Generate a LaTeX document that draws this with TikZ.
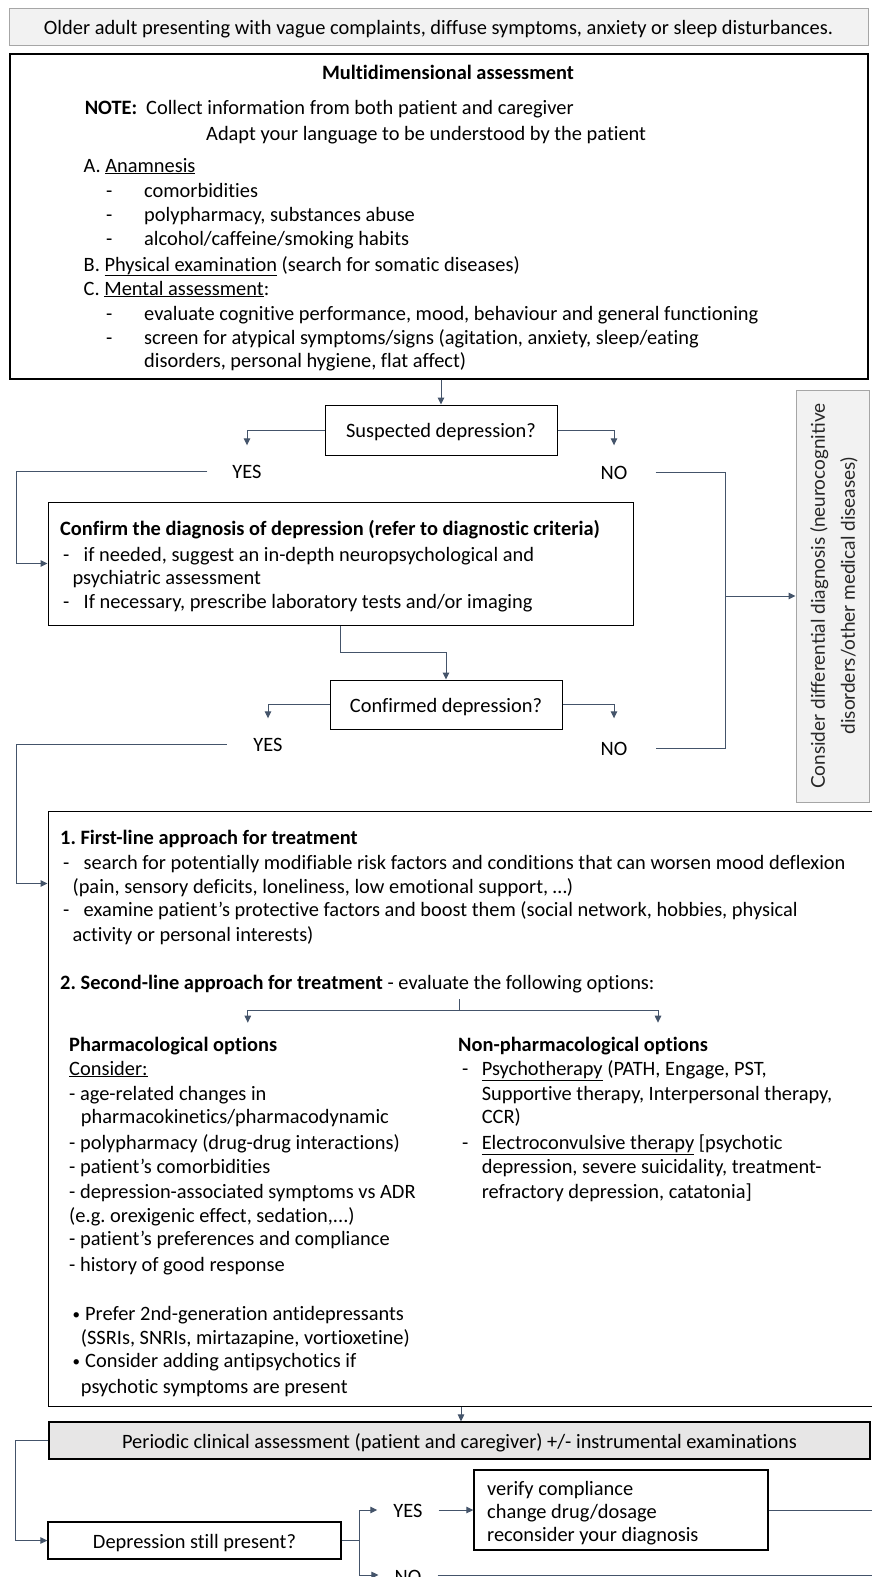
\documentclass[tikz,border=0pt]{standalone}
\usepackage{fontspec}
\setmainfont{Carlito}[Ligatures={NoCommon}]
\newfontfamily\sidefont{Lato}
\usetikzlibrary{arrows.meta,calc}
\definecolor{conn}{HTML}{44546A}
\definecolor{lgray}{HTML}{F2F2F2}
\definecolor{mgray}{HTML}{E7E6E6}
\definecolor{bgray}{HTML}{A6A6A6}
\definecolor{tx}{HTML}{000000}
\newcommand\TL[4]{\node[txt] (#1) at (#2,#3) {#4};}
\newcommand\smbul{\raisebox{1pt}{\fontsize{15}{15}\selectfont •}}
\frenchspacing
\begin{document}
\begin{tikzpicture}[x=1pt,y=-1pt,
  every node/.style={font=\fontsize{20.4}{24}\selectfont, text=tx},
  txt/.style={anchor=base west, inner sep=0pt, yshift=-2pt},
  box/.style={draw=black, line width=1.3pt, inner sep=0pt},
  ctext/.style={text height=15pt, text depth=0pt},
  graybox/.style={draw=bgray, fill=lgray, line width=1pt, inner sep=0pt},
  conn/.style={draw=conn, line width=1pt},
  arr/.style={conn, -{Triangle[length=7pt,width=6.5pt]}},
  lab/.style={inner sep=0pt, text height=15pt, text depth=0pt}]
\useasboundingbox (0,0) rectangle (872,1577);
\fill[white] (0,0) rectangle (872,1577);

% boxes
\node[graybox, ctext, minimum width=859pt, minimum height=37pt] (top) at (438.5,26.5)
  {Older adult presenting with vague complaints, diffuse symptoms, anxiety or sleep disturbances.};
\node[box, minimum width=858pt, minimum height=325pt] (mainbox) at (439,216.5) {};
\node[box, ctext, line width=1pt, minimum width=232pt, minimum height=50pt] (susp) at (441,430) {Suspected depression?};
\node[box, line width=1pt, minimum width=585pt, minimum height=123pt] (confirm) at (340.5,563.5) {};
\node[box, ctext, line width=1pt, minimum width=232pt, minimum height=49pt] (confd) at (446,704.5) {Confirmed depression?};
\node[graybox, minimum width=73pt, minimum height=412pt] (side) at (832.5,596) {};
\node[rotate=90, align=center, inner sep=0pt, text=black!85, font=\sidefont\fontsize{19}{30}\selectfont] (sidetext) at (834,596)
  {Consider differential diagnosis (neurocognitive\\disorders/other medical diseases)};
\node[box, line width=1pt, minimum width=826pt, minimum height=595pt] (treat) at (461,1108.5) {};
\node[box, ctext, fill=mgray, line width=1.2pt, minimum width=821pt, minimum height=37pt] (periodic) at (459.5,1440.5)
  {Periodic clinical assessment (patient and caregiver) +/- instrumental examinations};
\node[box, ctext, minimum width=293pt, minimum height=37pt] (dep) at (194.5,1540.5) {Depression still present?};
\node[box, minimum width=294pt, minimum height=80pt] (verify) at (621,1510) {};

% main box text
\node[anchor=base, inner sep=0pt] (mtitle) at (448,79) {\textbf{Multidimensional assessment}};
\TL{note}{84.6}{112}{\makebox[61.4pt][l]{\textbf{NOTE:}}Collect information from both patient and caregiver}
\TL{adapt}{206}{138}{Adapt your language to be understood by the patient}
\TL{ma}{83.5}{170}{A. \underline{Anamnesis}}
\TL{m1}{106}{195}{\makebox[38pt][l]{-}comorbidities}
\TL{m2}{106}{219}{\makebox[38pt][l]{-}polypharmacy, substances abuse}
\TL{m3}{106}{243}{\makebox[38pt][l]{-}alcohol/caffeine/smoking habits}
\TL{mb}{83.5}{269}{B. \underline{Physical examination} (search for somatic diseases)}
\TL{mc}{83.5}{293}{C. \underline{Mental assessment}:}
\TL{m4}{106}{318}{\makebox[38pt][l]{-}evaluate cognitive performance, mood, behaviour and general functioning}
\TL{m5}{106}{342}{\makebox[38pt][l]{-}screen for atypical symptoms/signs (agitation, anxiety, sleep/eating}
\TL{m6}{144}{365}{disorders, personal hygiene, flat affect)}

% confirm text
\TL{ct}{60}{533}{\textbf{Confirm the diagnosis of depression (refer to diagnostic criteria)}}
\TL{c1}{63}{559}{\makebox[20.5pt][l]{-}if needed, suggest an in-depth neuropsychological and}
\TL{c2}{72.4}{582}{psychiatric assessment}
\TL{c3}{63}{606}{\makebox[20.5pt][l]{-}If necessary, prescribe laboratory tests and/or imaging}

% treatment text
\TL{t1}{60}{842}{\textbf{1. First-line approach for treatment}}
\TL{t2}{63}{867}{\makebox[20.5pt][l]{-}search for potentially modifiable risk factors and conditions that can worsen mood deflexion}
\TL{t3}{72.4}{891}{(pain, sensory deficits, loneliness, low emotional support, …)}
\TL{t4}{63}{914}{\makebox[20.5pt][l]{-}examine patient’s protective factors and boost them (social network, hobbies, physical}
\TL{t5}{72.4}{939}{activity or personal interests)}
\TL{t6}{60}{987}{\textbf{2. Second-line approach for treatment} - evaluate the following options:}
\TL{p0}{69}{1049}{\textbf{Pharmacological options}}
\TL{p1}{69}{1073}{\underline{Consider:}}
\TL{p2}{69}{1098}{- age-related changes in}
\TL{p3}{80.7}{1121}{pharmacokinetics/pharmacodynamic}
\TL{p4}{69}{1147}{- polypharmacy (drug-drug interactions)}
\TL{p5}{69}{1171}{- patient’s comorbidities}
\TL{p6}{69}{1196}{- depression-associated symptoms vs ADR}
\TL{p7}{69}{1220}{(e.g. orexigenic effect, sedation,...)}
\TL{p8}{69}{1243}{- patient’s preferences and compliance}
\TL{p9}{69}{1269}{- history of good response}
\TL{p10}{72.4}{1318}{\makebox[12.6pt][l]{\smbul}Prefer 2nd-generation antidepressants}
\TL{p11}{80.7}{1342}{(SSRIs, SNRIs, mirtazapine, vortioxetine)}
\TL{p12}{72.4}{1365}{\makebox[12.6pt][l]{\smbul}Consider adding antipsychotics if}
\TL{p13}{80.7}{1391}{psychotic symptoms are present}
\TL{n0}{458}{1049}{\textbf{Non-pharmacological options}}
\TL{n1}{462}{1073}{\makebox[19.6pt][l]{-}\underline{Psychotherapy} (PATH, Engage, PST,}
\TL{n2}{481.6}{1098}{Supportive therapy, Interpersonal therapy,}
\TL{n3}{481.6}{1121}{CCR)}
\TL{n4}{462}{1147}{\makebox[19.6pt][l]{-}\underline{Electroconvulsive therapy} [psychotic}
\TL{n5}{481.6}{1171}{depression, severe suicidality, treatment-}
\TL{n6}{481.6}{1196}{refractory depression, catatonia]}

% verify text
\TL{v1}{487}{1493}{verify compliance}
\TL{v2}{487}{1516}{change drug/dosage}
\TL{v3}{487}{1539}{reconsider your diagnosis}

% YES / NO labels
\node[lab] (yes1) at (247,471) {YES};
\node[lab] (no1) at (614,472) {NO};
\node[lab] (yes2) at (268,744) {YES};
\node[lab] (no2) at (614,748) {NO};
\node[lab] (yes3) at (408,1510) {YES};
\node[lab] (no3) at (408,1576) {NO};

% coordinates
\coordinate (jn) at (725.5,596);
\coordinate (sp) at (459.4,999);
\coordinate (spl) at (247.8,1022.7);
\coordinate (spr) at (658,1022.7);
\coordinate (bj) at (359,1540.5);
\coordinate (re1) at (873,1510);
\coordinate (re2) at (873,1575);

% connectors
\draw[arr] (mainbox.south -| susp.north) -- (susp.north);
\draw[arr] (susp.west) -| ([yshift=18pt]yes1.north);
\draw[arr] (susp.east) -| ([yshift=19pt]no1.north);
\draw[arr] ([xshift=-25pt]yes1.west) -| ($(confirm.west)+(-31.5,0)$) -- (confirm.west);
\draw[conn] ([xshift=28pt]no1.east) -| (jn) |- ([xshift=28pt]no2.east);
\draw[arr] (jn) -- (side.west);
\draw[arr] (confirm.south) -- ++(0,27) -| (confd.north);
\draw[arr] (confd.west) -| ([yshift=18pt]yes2.north);
\draw[arr] (confd.east) -| ([yshift=22pt]no2.north);
\draw[arr] ([xshift=-26.5pt]yes2.west) -| ($(treat.north west)+(-31.5,73)$) -- ($(treat.north west)+(0,73)$);
\draw[conn] (sp) -- ++(0,11.7);
\draw[arr] (sp) ++(0,11.7) -| (spl);
\draw[arr] (sp) ++(0,11.7) -| (spr);
\draw[arr] (treat.south) -- (treat.south |- periodic.north);
\draw[arr] (periodic.west) -| ($(dep.west)+(-31.5,0)$) -- (dep.west);
\draw[conn] (dep.east) -- (bj);
\draw[arr] (bj) |- ([xshift=-16pt]yes3.west);
\draw[arr] (bj) |- ([xshift=-16pt,yshift=1pt]no3.west);
\draw[arr] ([xshift=16pt]yes3.east) -- (verify.west);
\draw[conn] (verify.east) -- (re1);
\draw[conn] ([xshift=16pt,yshift=1pt]no3.east) -- (re2);
\end{tikzpicture}
\end{document}
